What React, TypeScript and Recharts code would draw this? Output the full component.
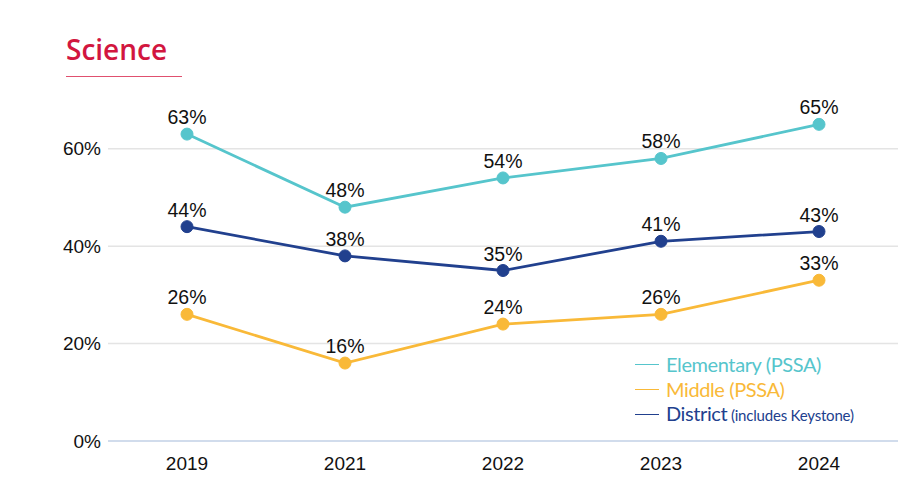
import React from 'react'
import { LineChart, Line, XAxis, YAxis, CartesianGrid, LabelList } from 'recharts'

const years = ['2019', '2021', '2022', '2023', '2024']
const elementary = [63, 48, 54, 58, 65]
const middle = [26, 16, 24, 26, 33]
const district = [44, 38, 35, 41, 43]
const yTicks = [0, 20, 40, 60]
const yMax = 70

const series = [
  { key: 'elementary', name: 'Elementary (PSSA)', note: '', color: '#56c5cc' },
  { key: 'middle', name: 'Middle (PSSA)', note: '', color: '#f9b938' },
  { key: 'district', name: 'District', note: ' (includes Keystone)', color: '#21408e' },
]

const data = years.map((year, i) => ({
  year,
  elementary: elementary[i],
  middle: middle[i],
  district: district[i],
}))

const labelFont = '"Liberation Sans", Arial, sans-serif'

function LegendBox() {
  return (
    <div style={{ position: 'absolute', left: 635, top: 352, fontFamily: '"Lato", "Open Sans", sans-serif' }}>
      {series.map((s) => (
        <div key={s.key} style={{ display: 'flex', alignItems: 'center', height: 25 }}>
          <span style={{ width: 24, height: 1, background: s.color, marginRight: 7 }} />
          <span style={{ color: s.color, fontSize: 20, lineHeight: '25px', whiteSpace: 'nowrap', letterSpacing: -0.4 }}>
            {s.name}
            {s.note && <span style={{ fontSize: 15, letterSpacing: -0.2 }}>{s.note}</span>}
          </span>
        </div>
      ))}
    </div>
  )
}

// grid only at the labelled ticks, not at the top of the plot
const gridRows = (props: any) => {
  const o = props.offset || {}
  const top = o.top ?? 100
  const h = o.height ?? 341
  return yTicks.map((t) => top + h * (1 - t / yMax))
}

export default function App() {
  return (
    <div style={{ position: 'absolute', left: 0, top: 0, width: 900, height: 500, background: '#fff' }}>
      <div
        style={{
          position: 'absolute',
          left: 66,
          top: 31,
          fontFamily: '"Open Sans", sans-serif',
          fontWeight: 600,
          fontSize: 28,
          color: '#d2163f',
          lineHeight: '36px',
        }}
      >
        Science
      </div>
      <div style={{ position: 'absolute', left: 66, top: 76, width: 116, height: 1, background: '#e0506f' }} />
      <LineChart width={900} height={500} data={data} margin={{ top: 100, right: 2, bottom: 0, left: 0 }}>
        <CartesianGrid
          vertical={false}
          stroke="#e4e4e4"
          strokeWidth={1.5}
          horizontalCoordinatesGenerator={gridRows}
        />
        <XAxis
          dataKey="year"
          padding={{ left: 79, right: 79 }}
          height={59}
          tickLine={false}
          tickSize={0}
          tickMargin={16}
          axisLine={{ stroke: '#c9d7ec', strokeWidth: 1.5 }}
          tick={{ fill: '#111', fontSize: 19, fontFamily: labelFont }}
        />
        <YAxis
          domain={[0, yMax]}
          ticks={yTicks}
          width={108}
          tickFormatter={(v) => `${v}%`}
          axisLine={false}
          tickLine={false}
          tickSize={0}
          tickMargin={7}
          tick={{ fill: '#111', fontSize: 19, fontFamily: labelFont }}
        />
        {series.map((s) => (
          <Line
            key={s.key}
            dataKey={s.key}
            name={s.name}
            stroke={s.color}
            strokeWidth={2.8}
            dot={{ r: 6, fill: s.color, stroke: s.color, strokeWidth: 1 }}
            activeDot={false}
            isAnimationActive={false}
          >
            <LabelList
              dataKey={s.key}
              position="top"
              offset={10}
              formatter={(v) => `${v}%`}
              style={{ fill: '#111', fontSize: 19.5, fontFamily: labelFont }}
            />
          </Line>
        ))}
      </LineChart>
      <LegendBox />
    </div>
  )
}
